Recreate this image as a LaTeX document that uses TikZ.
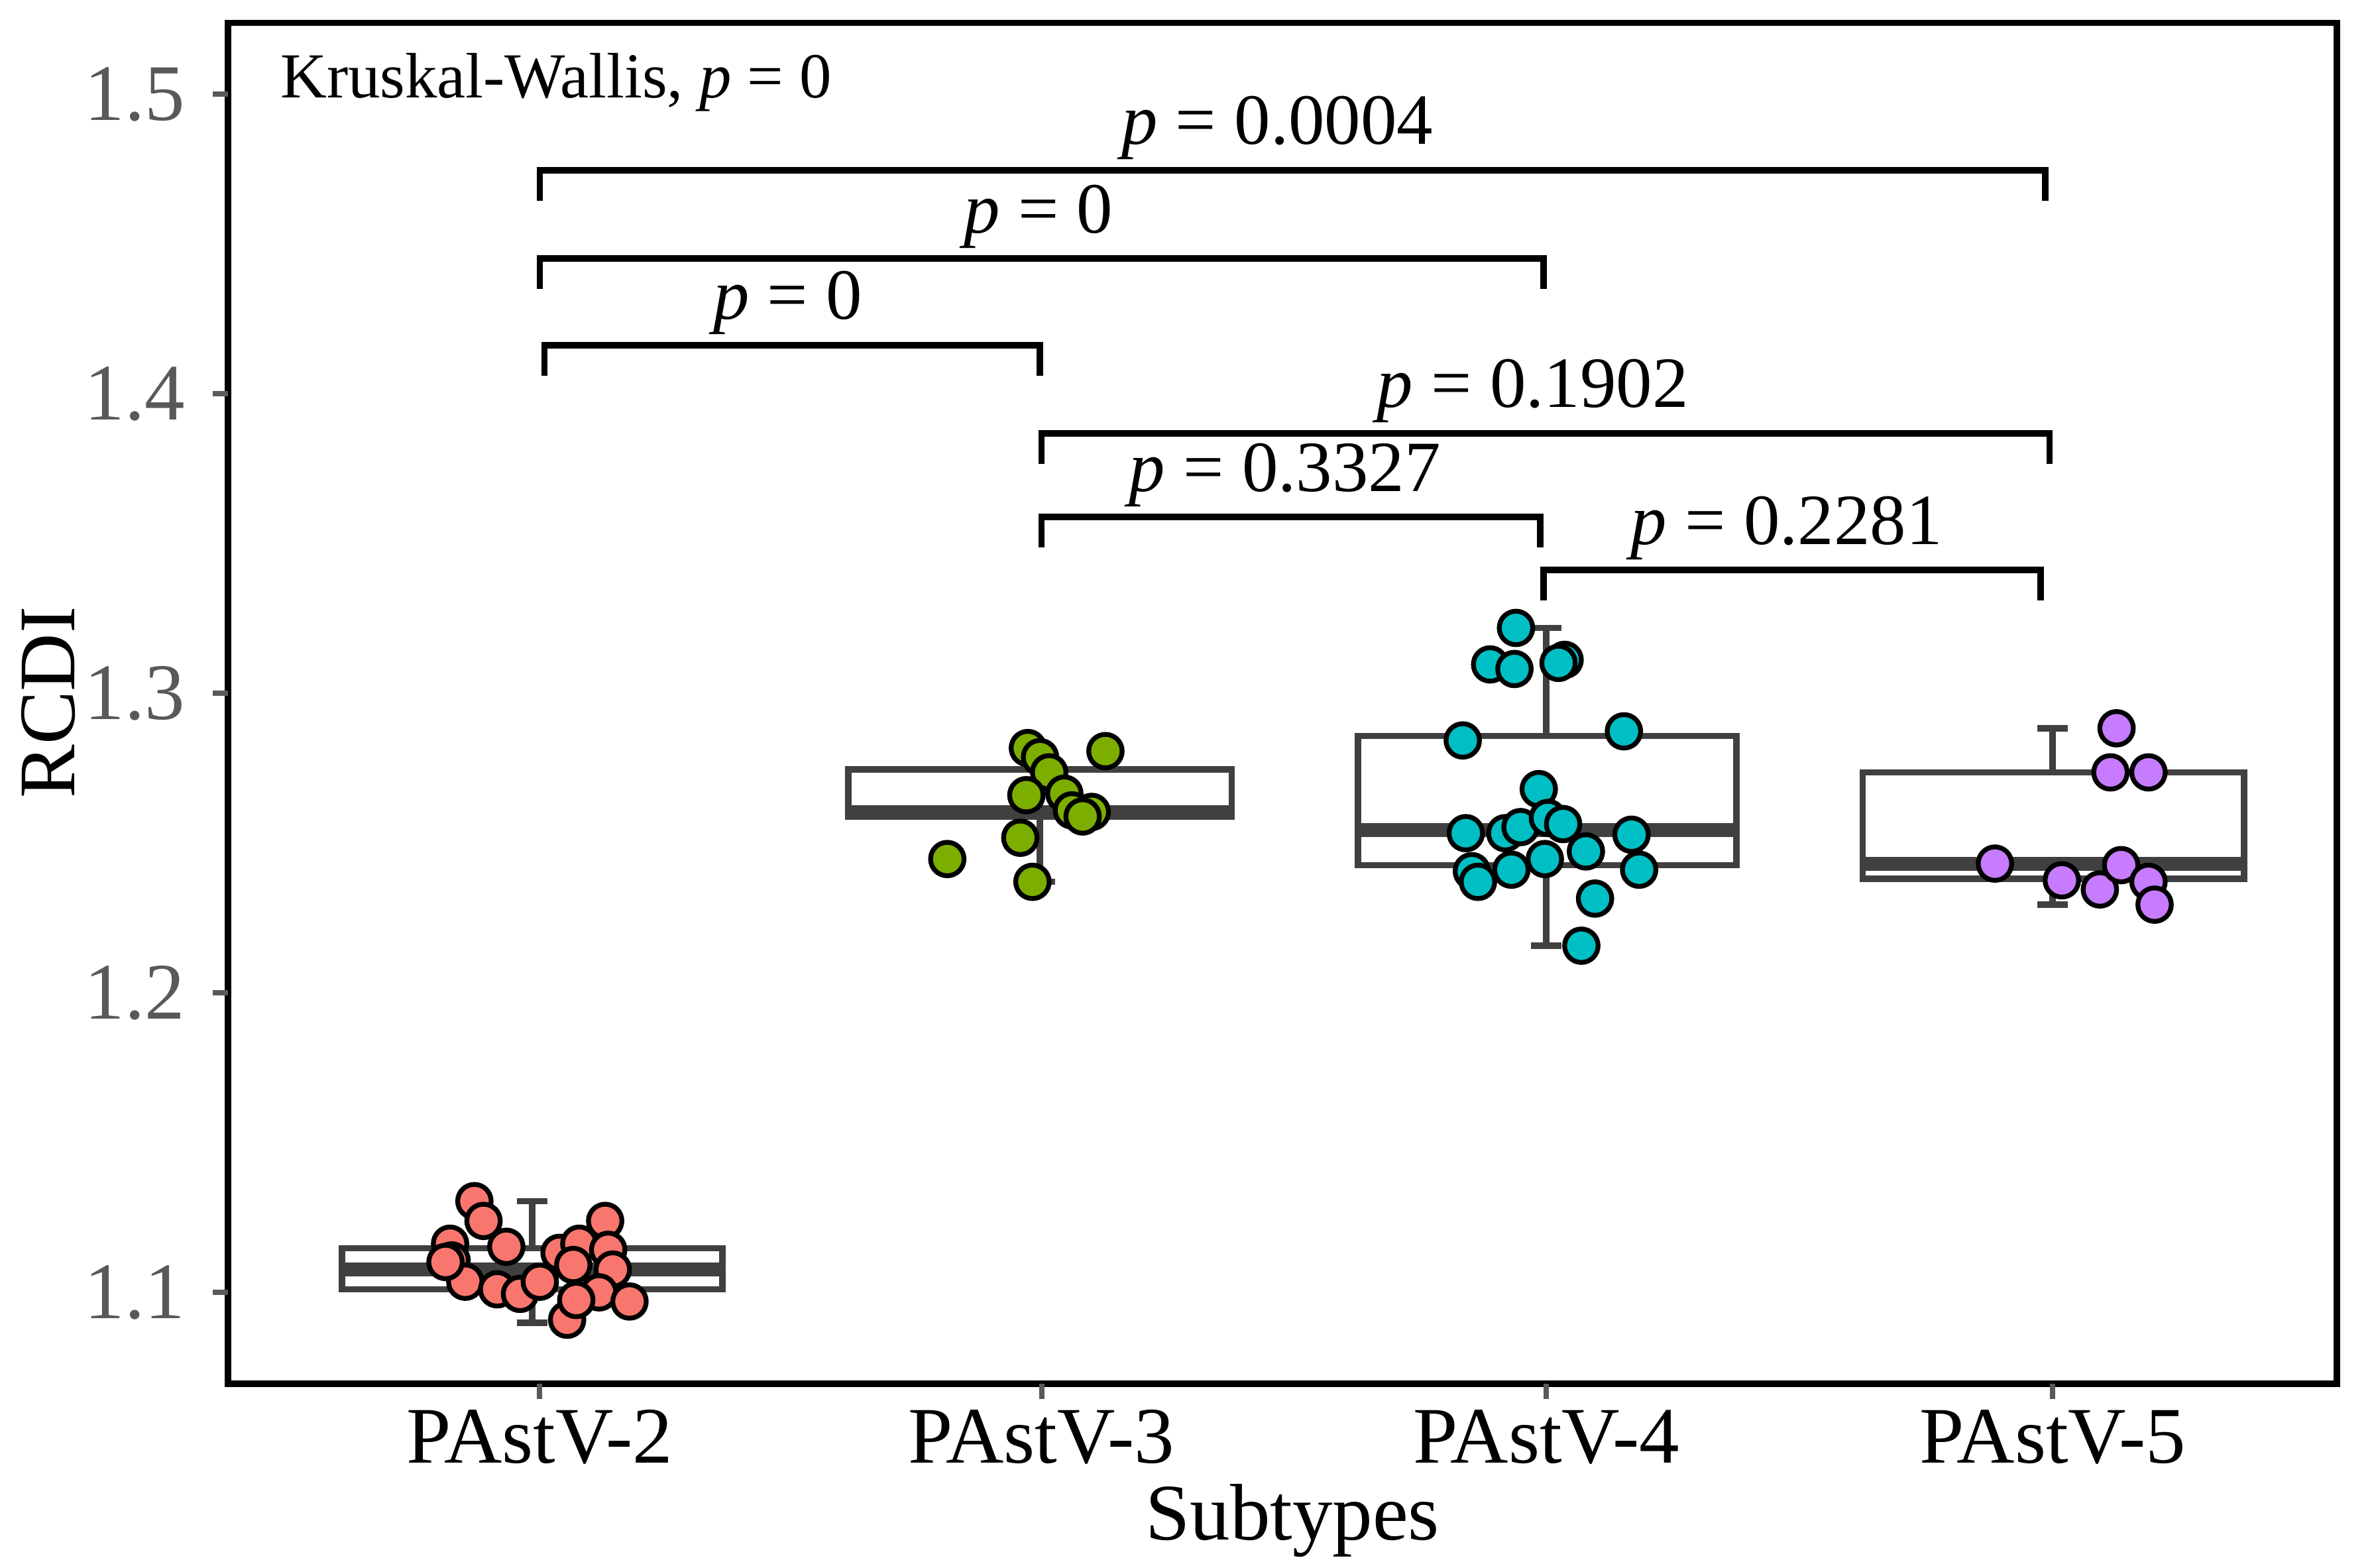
\documentclass[tikz,border=0pt]{standalone}
\usepackage{fontspec}
\setmainfont{Liberation Serif}
\begin{document}
\begin{tikzpicture}[x=0.01cm,y=-0.01cm,
 box/.style={draw=black!75,line width=1.2pt,fill=white},
 wh/.style={draw=black!75,line width=1.2pt},
 med/.style={draw=black!75,line width=2.6pt},
 br/.style={draw=black,line width=1.2pt},
 pt/.style={circle,draw=black,line width=0.9pt,minimum size=0.22cm,inner sep=0pt},
 plab/.style={font=\fontsize{13.5}{13.5}\selectfont,anchor=base},
 tick/.style={font=\fontsize{15}{15}\selectfont,text=black!65}]
\definecolor{cr}{HTML}{F8766D}\definecolor{cg}{HTML}{7CAE00}
\definecolor{cc}{HTML}{00BFC4}\definecolor{cp}{HTML}{C77CFF}
\useasboundingbox (0,0) rectangle (1560,1031);
\draw[line width=1.2pt] (150,15) rectangle (1537,910);
\foreach \v/\y in {1.5/62,1.4/259,1.3/456,1.2/653,1.1/850}{
 \draw[line width=1pt,black!65] (140,\y)--(150,\y);
 \node[tick,anchor=east] (t\v) at (134,\y) {\v};}
\foreach \x/\l in {355/2,685/3,1017/4,1350/5}{
 \draw[line width=1pt,black!65] (\x,910)--(\x,920);
 \node[font=\fontsize{15}{15}\selectfont] (x\l) at (\x,945) {PAstV-\l};}
\node[font=\fontsize{15}{15}\selectfont] (xl) at (850,1000) {Subtypes};
\node[font=\fontsize{15}{15}\selectfont,rotate=90] (yl) at (32,462) {RCDI};
\node[anchor=west,font=\fontsize{12}{12}\selectfont] (kw) at (172,54) {Kruskal-Wallis, \textit{p} = 0};
% boxes
\foreach \xa/\xb/\xc/\wt/\wb/\bt/\bb/\m in {
 225/475/350/790/870/821/848/835,
 558/810/684/492/580/506/537/534,
 893/1142/1017/413/622/484/569/546,
 1225/1476/1350/479/595/508/578/568}{
 \draw[wh] (\xc,\wt)--(\xc,\wb);
 \draw[wh] (\xc-10,\wt)--(\xc+10,\wt);
 \draw[wh] (\xc-10,\wb)--(\xc+10,\wb);
 \draw[box] (\xa,\bt) rectangle (\xb,\bb);
 \draw[med] (\xa,\m)--(\xb,\m);}
% points
\foreach \p in {(312,790),(318,803),(296,818),(297,829),(333,820),(306,843),(327,848),(342,851),(355,843),(368,824),(381,818),(377,832),(398,803),(400,822),(403,835),(394,850),(414,856),(373,868),(379,855),(293,830)}
 \node[pt,fill=cr] at \p {};
\foreach \p in {(676,492),(684,498),(690,508),(700,522),(705,533),(718,534),(712,537),(727,494),(675,523),(671,551),(623,565),(679,580)}
 \node[pt,fill=cg] at \p {};
\foreach \p in {(997,413),(980,437),(996,440),(1029,434),(1025,436),(962,487),(1068,481),(1012,519),(964,548),(990,548),(1000,544),(1018,538),(1028,542),(1073,549),(968,573),(972,580),(994,572),(1016,565),(1043,560),(1078,572),(1049,591),(1040,622)}
 \node[pt,fill=cc] at \p {};
\foreach \p in {(1392,479),(1388,508),(1413,508),(1312,568),(1356,579),(1381,585),(1395,569),(1413,580),(1417,595)}
 \node[pt,fill=cp] at \p {};
% brackets
\foreach \xa/\xb/\y/\lx/\t in {
 355/1345/112/840/0.0004, 355/1015/170/683/0, 358/684/227/518/0,
 685/1348/285/1008/0.1902, 685/1013/340/845/0.3327, 1015/1342/375/1175/0.2281}{
 \draw[br] (\xa,\y+20)--(\xa,\y)--(\xb,\y)--(\xb,\y+20);
 \node[plab] at (\lx,\y-17) {\textit{p} = \t};}
\end{tikzpicture}
\end{document}
